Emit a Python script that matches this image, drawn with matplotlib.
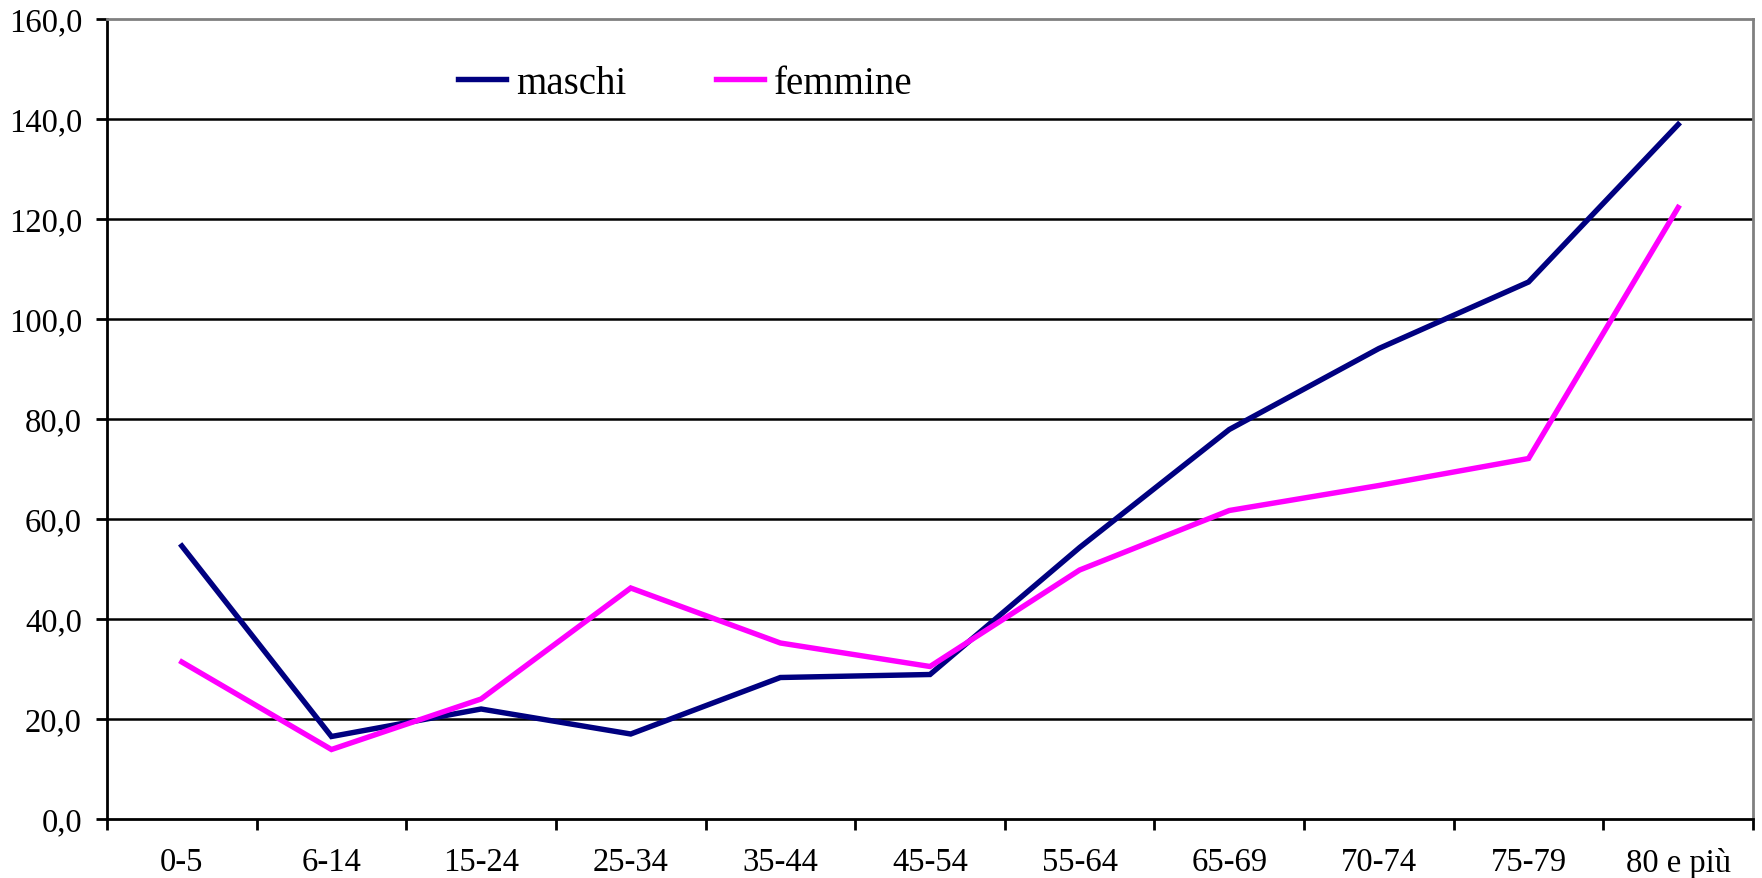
import matplotlib
matplotlib.use("Agg")
import matplotlib.pyplot as plt
from matplotlib.ticker import FixedLocator, FuncFormatter

categories = ["0-5", "6-14", "15-24", "25-34", "35-44", "45-54", "55-64",
              "65-69", "70-74", "75-79", "80 e più"]
maschi = [54.6, 16.5, 22.0, 17.0, 28.3, 28.9, 54.3, 77.9, 94.1, 107.4, 138.9]
femmine = [31.4, 13.9, 24.0, 46.2, 35.2, 30.5, 49.8, 61.7, 66.7, 72.1, 122.3]
yticks = [0, 20, 40, 60, 80, 100, 120, 140, 160]

plt.rcParams['font.family'] = ['Liberation Serif', 'DejaVu Serif']

fig = plt.figure(figsize=(17.62, 8.79), dpi=100)
ax = fig.add_axes([107/1762, 59/879, 1646/1762, 800/879])

x = list(range(len(categories)))
l1, = ax.plot(x, maschi, color="#000080", lw=3.9, label="maschi", solid_joinstyle='miter')
l2, = ax.plot(x, femmine, color="#FF00FF", lw=3.9, label="femmine", solid_joinstyle='miter')

ax.set_xlim(-0.5, len(categories) - 0.5)
ax.set_ylim(0, 160)

for v in yticks[1:-1]:
    ax.axhline(v, color="black", lw=1.8, zorder=0)

ax.yaxis.set_major_locator(FixedLocator(yticks))
ax.yaxis.set_major_formatter(FuncFormatter(lambda v, p: f"{v:.1f}".replace(".", ",")))
ax.set_xticks([i + 0.5 for i in range(-1, len(categories))])
ax.set_xticklabels([])
ax.set_xticks(x, minor=True)
ax.set_xticklabels(categories, minor=True)
ax.tick_params(axis='x', which='minor', length=0, pad=20, labelsize=23.5)
ax.tick_params(axis='x', which='major', length=8, width=2, direction='out')
ax.tick_params(axis='y', length=8, width=2, direction='out', labelsize=23.5, pad=10)

ax.spines['left'].set_linewidth(2)
ax.spines['bottom'].set_linewidth(2)
ax.spines['top'].set_color("#808080")
ax.spines['top'].set_linewidth(2)
ax.spines['right'].set_color("#808080")
ax.spines['right'].set_linewidth(2)

ax.legend(handles=[l1, l2], loc='center left', bbox_to_anchor=(0.213, 0.92),
          ncol=2, frameon=False, fontsize=28, handlelength=1.25,
          handletextpad=0.25, columnspacing=2.3, borderpad=0, borderaxespad=0)

fig.savefig("out.png", dpi=100)
